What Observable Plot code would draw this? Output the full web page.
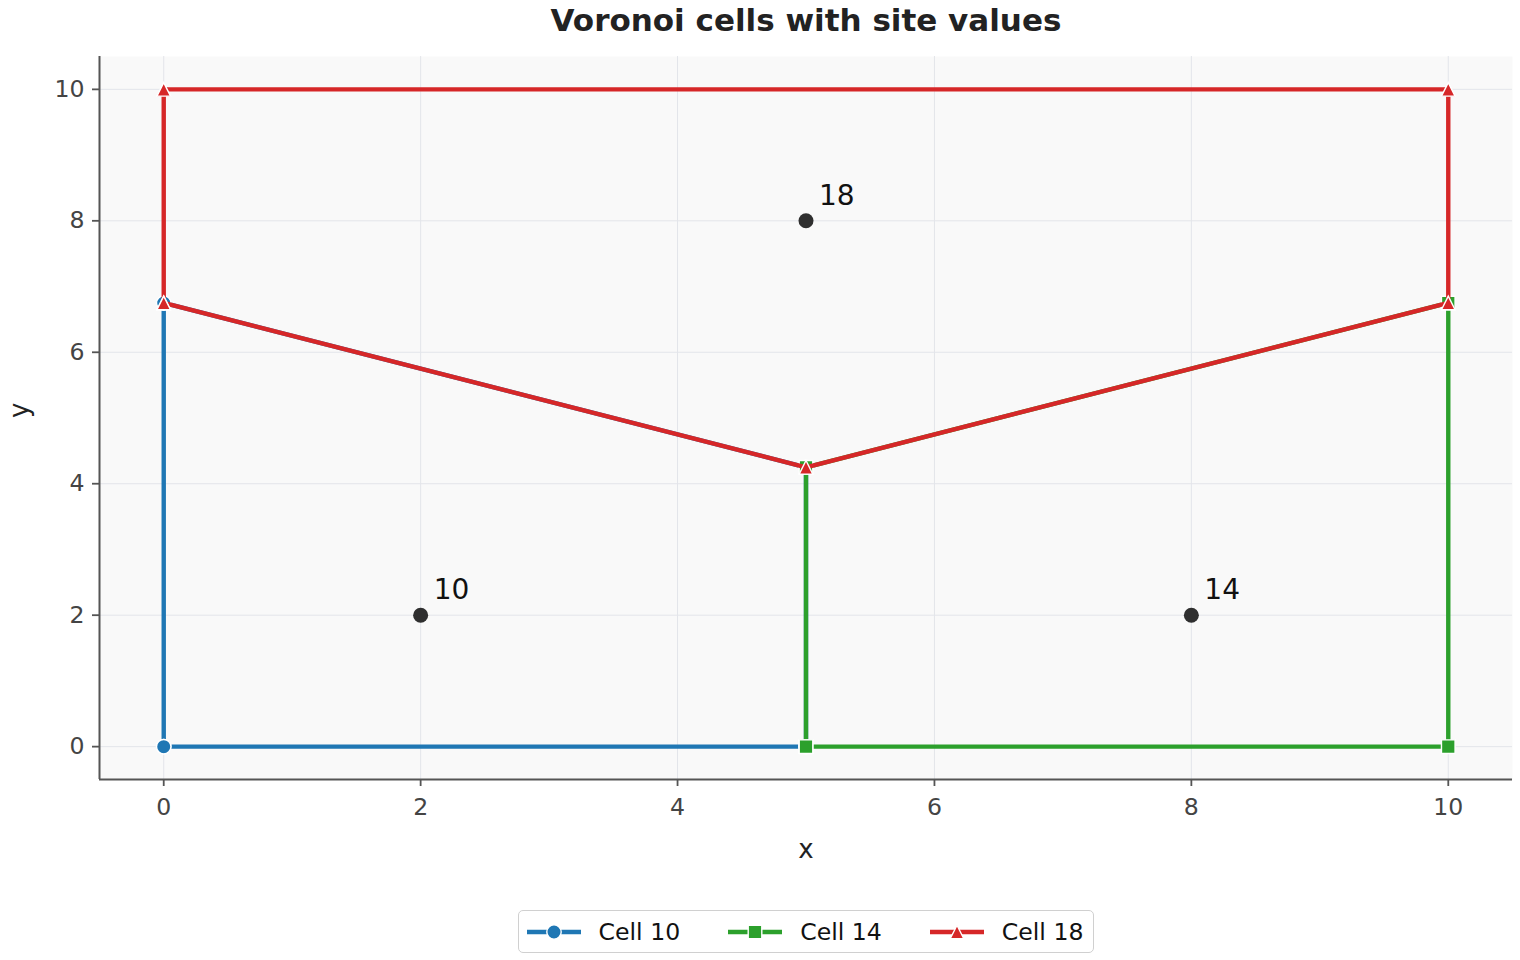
<!DOCTYPE html>
<html>
<head>
<meta charset="utf-8">
<script src="https://cdn.jsdelivr.net/npm/d3@7"></script>
<script src="https://cdn.jsdelivr.net/npm/@observablehq/plot@0.6"></script>
<style>
  html, body { margin: 0; padding: 0; background: #fff; }
  body { width: 1520px; height: 960px; overflow: hidden; font-family: "DejaVu Sans", sans-serif; }
  #title { width: 1520px; height: 40px; line-height: 40px; box-sizing: border-box; padding-left: 92px;
           text-align: center; font-weight: bold; font-size: 31px; color: #222; }
  #legendWrap { width: 1520px; box-sizing: border-box; padding-left: 92px; display: flex; justify-content: center; margin-top: 30px; }
  #legend { display: flex; align-items: center; border: 1.5px solid #d0d0d0; border-radius: 5px; height: 41px;
            padding: 0 10px 0 8px; background: #fff; }
  .item { display: flex; align-items: center; font-size: 23.6px; color: #111; }
  .item svg { margin-right: 18px; }
  .item + .item { margin-left: 48px; }
</style>
</head>
<body>
<div id="title">Voronoi cells with site values</div>
<div id="chart"></div>
<div id="legendWrap"><div id="legend"></div></div>
<script>
// ---- data ----
const xTicks = [0, 2, 4, 6, 8, 10];
const yTicks = [0, 2, 4, 6, 8, 10];
const xDomain = [-0.5, 10.5];
const yDomain = [-0.5, 10.5];

const cellLabels = ["Cell 10", "Cell 14", "Cell 18"];
const cell10X = [0, 5, 5, 0, 0];
const cell10Y = [0, 0, 4.25, 6.75, 0];
const cell14X = [5, 10, 10, 5, 5];
const cell14Y = [0, 0, 6.75, 4.25, 0];
const cell18X = [0, 5, 10, 10, 0, 0];
const cell18Y = [6.75, 4.25, 6.75, 10, 10, 6.75];

const siteX = [2, 8, 5];
const siteY = [2, 2, 8];
const siteValues = [10, 14, 18];

// ---- styling ----
const cellColors = ["#1f77b4", "#2ca02c", "#d62728"];
const symCircle = { draw(ctx, size) { const r = Math.sqrt(size / Math.PI); ctx.moveTo(r, 0); ctx.arc(0, 0, r, 0, 2 * Math.PI); } };
const symSquare = { draw(ctx, size) { const r = Math.sqrt(size / Math.PI); ctx.rect(-r, -r, 2 * r, 2 * r); } };
const symTriangle = { draw(ctx, size) { const r = Math.sqrt(size / Math.PI); ctx.moveTo(0, -r); ctx.lineTo(r, r); ctx.lineTo(-r, r); ctx.closePath(); } };
const cellSymbols = [symCircle, symSquare, symTriangle];
const markerR = [7.2, 6.8, 6.8];

const cellXs = [cell10X, cell14X, cell18X];
const cellYs = [cell10Y, cell14Y, cell18Y];
const cells = cellLabels.map((label, i) => cellXs[i].map((x, j) => ({ label, x, y: cellYs[i][j] })));
const sites = siteX.map((x, i) => ({ x, y: siteY[i], v: siteValues[i] }));

const cellMarks = cells.flatMap((rows, i) => [
  Plot.line(rows, { x: "x", y: "y", stroke: cellColors[i], strokeWidth: 4.4, strokeLinejoin: "round", strokeLinecap: "square" }),
  Plot.dot(rows, { x: "x", y: "y", symbol: cellSymbols[i], r: markerR[i], fill: cellColors[i], stroke: "white", strokeWidth: 1.4 })
]);

const chart = Plot.plot({
  width: 1520,
  height: 840,
  marginTop: 16,
  marginBottom: 101,
  marginLeft: 99,
  marginRight: 8,
  style: { fontFamily: "DejaVu Sans", fontSize: "23.6px", color: "#444", background: "transparent" },
  x: { domain: xDomain },
  y: { domain: yDomain },
  marks: [
    Plot.frame({ fill: "#f9f9f9", stroke: null }),
    Plot.gridX(xTicks, { stroke: "#e3e5ea", strokeOpacity: 1, strokeWidth: 1 }),
    Plot.gridY(yTicks, { stroke: "#e3e5ea", strokeOpacity: 1, strokeWidth: 1 }),
    Plot.axisX(xTicks, { tickSize: 7, tickPadding: 12, stroke: "#555", strokeWidth: 1.8, fill: "#444", label: null, tickFormat: d => String(d) }),
    Plot.axisY(yTicks, { tickSize: 7, tickPadding: 8, stroke: "#555", strokeWidth: 1.8, fill: "#444", label: null, tickFormat: d => String(d) }),
    Plot.ruleX([xDomain[0]], { stroke: "#555", strokeWidth: 2 }),
    Plot.ruleY([yDomain[0]], { stroke: "#555", strokeWidth: 2 }),
    ...cellMarks,
    Plot.dot(sites, { x: "x", y: "y", r: 7.5, fill: "#2f2f2f" }),
    Plot.text(sites, { x: "x", y: "y", text: d => String(d.v), dx: 13, dy: -25, textAnchor: "start", fontSize: 28, fill: "#111" }),
    Plot.text(["x"], { frameAnchor: "bottom", dy: 78, fontSize: 26, fill: "#222" }),
    Plot.text(["y"], { frameAnchor: "left", dx: -80, rotate: -90, fontSize: 26, fill: "#222" })
  ]
});
document.getElementById("chart").appendChild(chart);

// ---- legend ----
const legend = d3.select("#legend");
cellLabels.forEach((label, i) => {
  const item = legend.append("div").attr("class", "item");
  const svg = item.append("svg").attr("width", 54).attr("height", 20);
  svg.append("line").attr("x1", 0).attr("x2", 54).attr("y1", 10).attr("y2", 10)
    .attr("stroke", cellColors[i]).attr("stroke-width", 4.4);
  svg.append("path").attr("transform", "translate(27,10)")
    .attr("d", d3.symbol(cellSymbols[i], Math.PI * markerR[i] * markerR[i])())
    .attr("fill", cellColors[i]).attr("stroke", "white").attr("stroke-width", 1.4);
  item.append("span").text(label);
});
</script>
</body>
</html>
